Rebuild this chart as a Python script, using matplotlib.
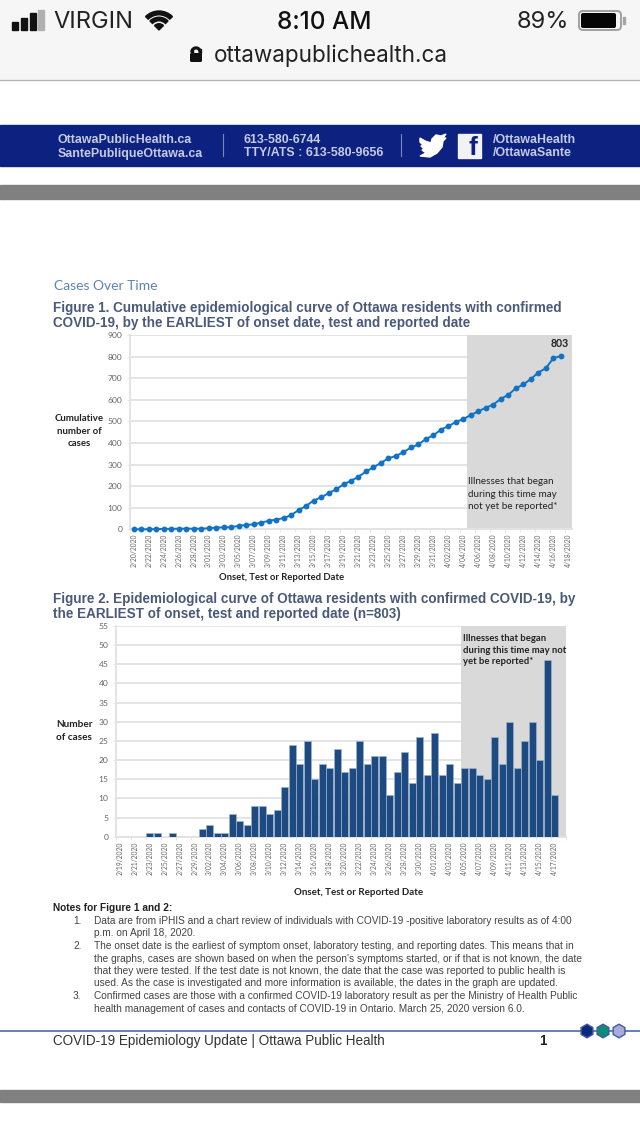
import numpy as np
import matplotlib
matplotlib.use('Agg')
import matplotlib.pyplot as plt
from matplotlib.patches import Rectangle, FancyBboxPatch, Wedge, RegularPolygon, Polygon

W, H = 640, 1136

# figure 1: cumulative cases, 2/20 to 4/17, 4/18 has no point
cum_dates = ['2/20/2020', '2/22/2020', '2/24/2020', '2/26/2020', '2/28/2020',
             '3/01/2020', '3/03/2020', '3/05/2020', '3/07/2020', '3/09/2020',
             '3/11/2020', '3/13/2020', '3/15/2020', '3/17/2020', '3/19/2020',
             '3/21/2020', '3/23/2020', '3/25/2020', '3/27/2020', '3/29/2020',
             '3/31/2020', '4/02/2020', '4/04/2020', '4/06/2020', '4/08/2020',
             '4/10/2020', '4/12/2020', '4/14/2020', '4/16/2020', '4/18/2020']
cum_cases = [0, 0, 0, 1, 2, 2, 3, 3, 3, 3, 5, 8, 9, 10, 16, 20, 23, 31, 39, 45,
             52, 65, 89, 108, 133, 148, 167, 185, 208, 225, 243, 268, 287, 308,
             329, 340, 357, 379, 393, 419, 435, 462, 478, 497, 511, 529, 547,
             563, 578, 604, 623, 653, 671, 696, 726, 746, 792, 803]

# figure 2: daily cases, 2/19 to 4/17
day_dates = ['2/19/2020', '2/21/2020', '2/23/2020', '2/25/2020', '2/27/2020',
             '2/29/2020', '3/02/2020', '3/04/2020', '3/06/2020', '3/08/2020',
             '3/10/2020', '3/12/2020', '3/14/2020', '3/16/2020', '3/18/2020',
             '3/20/2020', '3/22/2020', '3/24/2020', '3/26/2020', '3/28/2020',
             '3/30/2020', '4/01/2020', '4/03/2020', '4/05/2020', '4/07/2020',
             '4/09/2020', '4/11/2020', '4/13/2020', '4/15/2020', '4/17/2020']
day_cases = [0, 0, 0, 0, 1, 1, 0, 1, 0, 0, 0, 2, 3, 1, 1, 6, 4, 3, 8, 8, 6, 7,
             13, 24, 19, 25, 15, 19, 18, 23, 17, 18, 25, 19, 21, 21, 11, 17,
             22, 14, 26, 16, 27, 16, 19, 14, 18, 18, 16, 15, 26, 19, 30, 18,
             25, 30, 20, 46, 11]

notes = [
    (920.5, '1.', 'Data are from iPHIS and a chart review of individuals with COVID-19 -positive laboratory results as of 4:00'),
    (933, '', 'p.m. on April 18, 2020.'),
    (946, '2.', 'The onset date is the earliest of symptom onset, laboratory testing, and reporting dates. This means that in'),
    (958.5, '', "the graphs, cases are shown based on when the person's symptoms started, or if that is not known, the date"),
    (971, '', 'that they were tested. If the test date is not known, the date that the case was reported to public health is'),
    (983.5, '', 'used. As the case is investigated and more information is available, the dates in the graph are updated.'),
    (996, '3.', 'Confirmed cases are those with a confirmed COVID-19 laboratory result as per the Ministry of Health Public'),
    (1008.5, '', 'health management of cases and contacts of COVID-19 in Ontario. March 25, 2020 version 6.0.'),
]

UI = 'Inter'
SANS = 'Liberation Sans'
CAL = 'Lato'
GRID = '#e2e2e2'
SHADE = '#d9d9d9'
TICK = '#666666'


def px_axes(fig, left, top, right, bottom):
    return fig.add_axes([left/W, 1-bottom/H, (right-left)/W, (bottom-top)/H])


def page(ax):
    ax.set_xlim(0, W)
    ax.set_ylim(H, 0)
    ax.axis('off')

    # phone status bar
    ax.add_patch(Rectangle((0, 0), W, 79, color='#f6f6f6'))
    ax.plot([0, W], [79.5, 79.5], color='#b5b5b5', lw=1)
    for x, top, c in ((12, 22, '#111111'), (21, 18, '#111111'), (29.5, 13, '#111111'), (38, 10, '#b0b0b0')):
        ax.add_patch(Rectangle((x, top), 6, 30-top, color=c))
    ax.text(53, 22.5, 'VIRGIN', family=UI, fontsize=17, color='#222222', va='center')
    ax.add_patch(Wedge((159, 30), 19, 225, 315, width=3.8, color='#111111'))
    ax.add_patch(Wedge((159, 30), 12.8, 225, 315, width=3.6, color='#111111'))
    ax.add_patch(Wedge((159, 30), 6.3, 225, 315, color='#111111'))
    ax.text(324.5, 22.5, '8:10 AM', family=UI, fontsize=17.5, fontweight='medium', color='#111111', ha='center', va='center')
    ax.text(569, 22.5, '89%', family=UI, fontsize=17, color='#222222', ha='right', va='center')
    ax.add_patch(FancyBboxPatch((579, 11), 42, 19, boxstyle='round,pad=0,rounding_size=4', fc='none', ec='#9a9a9a', lw=1.3))
    ax.add_patch(FancyBboxPatch((581, 13), 35, 15, boxstyle='round,pad=0,rounding_size=2', fc='#050505', ec='none'))
    ax.add_patch(Rectangle((623, 17), 2, 7, color='#a5a5a5'))
    ax.add_patch(FancyBboxPatch((190, 53), 12, 9, boxstyle='round,pad=0,rounding_size=1.5', fc='#111111', ec='none'))
    ax.add_patch(Wedge((196, 52), 5, 180, 360, width=1.8, color='#111111'))
    ax.add_patch(Rectangle((191, 49), 1.8, 4, color='#111111'))
    ax.add_patch(Rectangle((199.2, 49), 1.8, 4, color='#111111'))
    ax.text(214, 55.5, 'ottawapublichealth.ca', family=UI, fontsize=16.2, color='#222222', va='center')

    # banner
    ax.add_patch(Rectangle((0, 125), W, 40.5, color='#0c2180'))
    for x, y, s in ((58, 140, 'OttawaPublicHealth.ca'), (58, 153.5, 'SantePubliqueOttawa.ca'),
                    (244, 140, '613-580-6744'), (244, 153.5, 'TTY/ATS : 613-580-9656'),
                    (493, 140, '/OttawaHealth'), (493, 153.5, '/OttawaSante')):
        ax.text(x, y, s, family=SANS, fontsize=8.9, fontweight='bold', color='#c4cbe2', va='center')
    ax.plot([223, 223], [134, 156], color='#7c88bb', lw=0.8)
    ax.plot([401, 401], [134, 156], color='#7c88bb', lw=0.8)
    bird = [(420, 138), (425, 141), (431, 143), (432, 139), (436, 135), (441, 136), (446, 134),
            (443, 138), (446, 138), (443, 141), (442, 147), (437, 153), (430, 157), (420, 156),
            (426, 153), (422, 150), (424, 149), (421, 146), (423, 145), (420, 142)]
    ax.add_patch(Polygon(bird, color='white'))
    ax.add_patch(Rectangle((458, 134), 23, 23.5, color='#f2f2f6'))
    ax.text(473, 148, 'f', family=SANS, fontsize=19, fontweight='bold', color='#0c2180', ha='center', va='center')

    # grey page gaps
    ax.add_patch(Rectangle((0, 185), W, 14, color='#808080'))
    ax.add_patch(Rectangle((0, 1090), W, 12, color='#808080'))

    # headings
    ax.text(54, 286.5, 'Cases Over Time', family=CAL, fontsize=10, color='#5b84b8', va='center')
    for y, s in ((307.7, 'Figure 1. Cumulative epidemiological curve of Ottawa residents with confirmed'),
                 (322.7, 'COVID-19, by the EARLIEST of onset date, test and reported date'),
                 (598.7, 'Figure 2. Epidemiological curve of Ottawa residents with confirmed COVID-19, by'),
                 (613.7, 'the EARLIEST of onset, test and reported date (n=803)')):
        ax.text(53, y, s, family=SANS, fontsize=9.75, fontweight='bold', color='#4a5a78', va='center')

    # axis titles sit outside the plot boxes
    ax.text(79, 431, 'Cumulative\nnumber of\ncases', family=CAL, fontsize=6.9, fontweight='bold',
            color='#222222', ha='center', va='center', linespacing=1.45)
    ax.text(92.5, 731, 'Number\nof cases', family=CAL, fontsize=7.2, fontweight='bold',
            color='#222222', ha='right', va='center', linespacing=1.55, multialignment='center')
    ax.text(282, 578, 'Onset, Test or Reported Date', family=CAL, fontsize=6.85, fontweight='bold',
            color='#222222', ha='center', va='center')
    ax.text(359, 892.5, 'Onset, Test or Reported Date', family=CAL, fontsize=7, fontweight='bold',
            color='#222222', ha='center', va='center')

    # notes
    ax.text(53, 908, 'Notes for Figure 1 and 2:', family=SANS, fontsize=7.3, fontweight='bold', color='#222222', va='center')
    for y, num, s in notes:
        if num:
            ax.text(73, y, num, family=SANS, fontsize=7.25, color='#444444', va='center')
        ax.text(93.5, y, s, family=SANS, fontsize=7.25, color='#444444', va='center')

    # footer
    ax.plot([0, W], [1031, 1031], color='#5a74b4', lw=1.3)
    for x, fc in ((587, '#0b2a7a'), (603, '#0d8a78'), (619, '#a9abd8')):
        ax.add_patch(RegularPolygon((x, 1031), 6, radius=6.8, fc=fc, ec='#3f5aa6', lw=1, zorder=3))
    ax.text(53, 1041, 'COVID-19 Epidemiology Update | Ottawa Public Health', family=SANS, fontsize=9.75, color='#333333', va='center')
    ax.text(543, 1041, '1', family=SANS, fontsize=9.75, fontweight='bold', color='#222222', ha='center', va='center')


def style(ax, ymax, step, labels, n, shade_from):
    ax.set_xlim(-0.5, n-0.5)
    ax.set_ylim(0, ymax)
    ax.axvspan(shade_from-0.5, n-0.5, color=SHADE, lw=0, zorder=1)
    ax.set_yticks(np.arange(0, ymax+1, step))
    ax.set_xticks(np.arange(0, n, 2))
    ax.set_xticklabels(labels, rotation=90, family=CAL, fontsize=4.9, color=TICK)
    ax.set_xticks(np.arange(-0.5, n, 2), minor=True)
    ax.tick_params(axis='x', which='major', length=0, pad=3.2)
    ax.tick_params(axis='x', which='minor', length=2, width=0.6, color=GRID)
    ax.tick_params(axis='y', length=2.5, width=0.6, color=GRID, pad=3, labelsize=6.1, labelcolor=TICK)
    for lab in ax.get_yticklabels():
        lab.set_family(CAL)
    ax.grid(axis='y', color=GRID, lw=1.3, zorder=0)
    ax.set_axisbelow(True)
    for s in ('top', 'right'):
        ax.spines[s].set_visible(False)
    for s in ('left', 'bottom'):
        ax.spines[s].set_color(GRID)
        ax.spines[s].set_linewidth(1.3)


plt.rcParams['font.family'] = [SANS, 'DejaVu Sans']
fig = plt.figure(figsize=(W/100, H/100), dpi=100, facecolor='white')
bg = fig.add_axes([0, 0, 1, 1])
page(bg)

ax1 = px_axes(fig, 130, 335, 572, 529.3)
ax1.patch.set_alpha(0)
style(ax1, 900, 100, cum_dates, 59, 45)
ax1.plot(range(len(cum_cases)), cum_cases, color='#1273c4', lw=1.4, marker='o', ms=3.2, zorder=3, clip_on=False)
ax1.text(56.8, 862, '803', family=CAL, fontsize=7.6, fontweight='bold', color='#222222', ha='center', va='center')
ax1.text(44.6, 163, 'Illnesses that began\nduring this time may\nnot yet be reported*', family=CAL, fontsize=7.1,
         color='#222222', ha='left', va='center', linespacing=1.45, zorder=4)

ax2 = px_axes(fig, 116, 626, 566, 836.7)
ax2.patch.set_alpha(0)
style(ax2, 55, 5, day_dates, 60, 46)
ax2.bar(range(len(day_cases)), day_cases, width=0.88, color='#1d4a80', edgecolor='#9db2cc', lw=0.5, zorder=3)
ax2.text(45.8, 48.7, 'Illnesses that began\nduring this time may not\nyet be reported*', family=CAL, fontsize=6.8,
         fontweight='bold', color='#222222', ha='left', va='center', linespacing=1.4, zorder=4)

fig.savefig('out.png', dpi=100)
